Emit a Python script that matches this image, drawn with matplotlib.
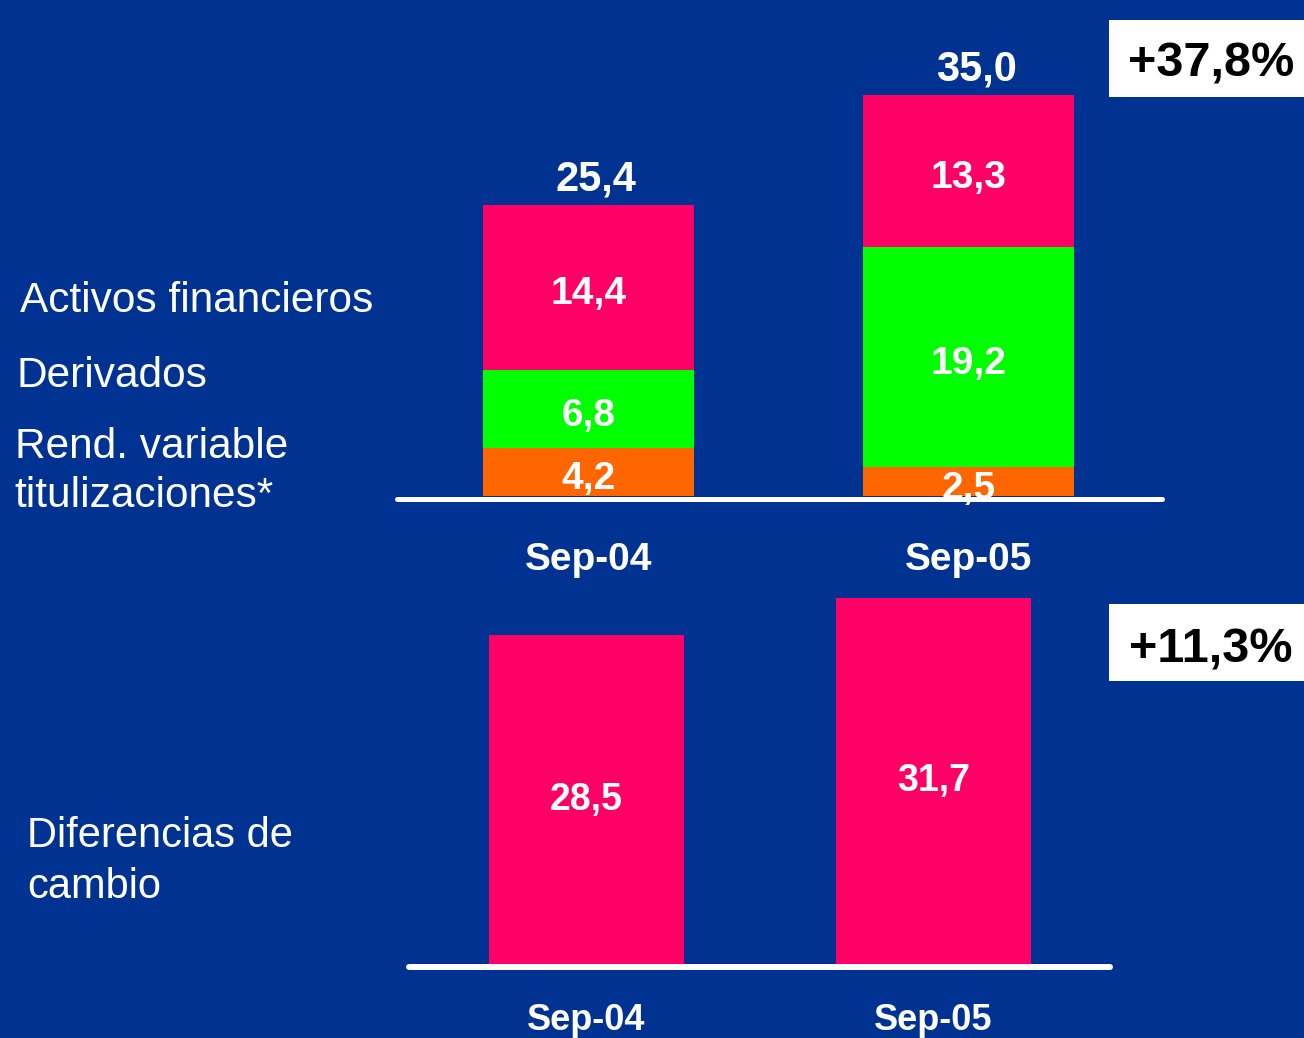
import matplotlib
matplotlib.use('Agg')
import matplotlib.pyplot as plt
from matplotlib.patches import Rectangle

# ---------------- data ----------------
categories = ['Sep-04', 'Sep-05']
rend_variable = [4.2, 2.5]      # Rend. variable titulizaciones*
derivados = [6.8, 19.2]
activos_fin = [14.4, 13.3]
dif_cambio = [28.5, 31.7]
growth_top = '+37,8%'
growth_bottom = '+11,3%'
legend_top = ['Activos financieros', 'Derivados', 'Rend. variable', 'titulizaciones*']
legend_bottom = ['Diferencias de', 'cambio']

# ---------------- style ----------------
W, H = 1304, 1038
BG = '#003391'
PINK = '#FF0066'
GREEN = '#00FF00'
ORANGE = '#FF6600'
FONT = 'Liberation Sans'
plt.rcParams['font.family'] = [FONT, 'DejaVu Sans']


def fmt(v):
    return f'{v:.1f}'.replace('.', ',')


def fx(x):
    return x / W


def fy(y):
    return 1 - y / H


fig = plt.figure(figsize=(W / 100, H / 100), dpi=100, facecolor=BG)


def clean(ax):
    ax.set_facecolor('none')
    for s in ax.spines.values():
        s.set_visible(False)
    ax.set_yticks([])


# ---------------- top chart ----------------
sc1 = 11.46
ax1 = fig.add_axes([fx(397), 542 / H, (1162 - 397) / W, 496 / H])
clean(ax1)
ax1.set_xlim(-0.504, 1.509)
ax1.set_ylim(0, 496 / sc1)
x = list(range(len(categories)))
bw1 = 0.555
ax1.bar(x, rend_variable, width=bw1, color=ORANGE, zorder=2)
ax1.bar(x, derivados, width=bw1, bottom=rend_variable, color=GREEN, zorder=2)
bottom3 = [a + b for a, b in zip(rend_variable, derivados)]
ax1.bar(x, activos_fin, width=bw1, bottom=bottom3, color=PINK, zorder=2)
ax1.axhline(-0.22, xmin=0, xmax=1, color='white', lw=3.6, clip_on=False,
            solid_capstyle='round', zorder=3)

for i in x:
    segs = [(0, rend_variable[i]), (rend_variable[i], derivados[i]),
            (bottom3[i], activos_fin[i])]
    for base, v in segs:
        ax1.text(i, base + v / 2 - 0.6, fmt(v), ha='center', va='center', color='white',
                 fontsize=28, fontweight='bold', zorder=4)
    tot = bottom3[i] + activos_fin[i]
    ax1.text(i + 0.02, tot + 1.22, fmt(tot), ha='center', va='baseline', color='white',
             fontsize=30, fontweight='bold', zorder=4)

ax1.set_xticks(x, categories)
ax1.tick_params(axis='x', length=0, pad=33, labelsize=28, labelcolor='white')
for t in ax1.get_xticklabels():
    t.set_fontweight('bold')

# ---------------- bottom chart ----------------
sc2 = 11.53
ax2 = fig.add_axes([fx(409), 74 / H, (1110 - 409) / W, 404 / H])
clean(ax2)
ax2.set_xlim(-0.5115, 1.5086)
ax2.set_ylim(0, 404 / sc2)
bw2 = 0.562
ax2.bar(x, dif_cambio, width=bw2, color=PINK, zorder=2)
ax2.axhline(-0.26, xmin=0, xmax=1, color='white', lw=4.3, clip_on=False,
            solid_capstyle='round', zorder=3)
for i in x:
    ax2.text(i, dif_cambio[i] / 2, fmt(dif_cambio[i]), ha='center', va='center',
             color='white', fontsize=27, fontweight='bold', zorder=4)
ax2.set_xticks(x, categories)
ax2.tick_params(axis='x', length=0, pad=28, labelsize=26, labelcolor='white')
for t in ax2.get_xticklabels():
    t.set_fontweight('bold')

# ---------------- side labels ----------------
legend_pos = [(20, 312), (16, 387), (15, 458), (14, 507)]
for (px, py), lab in zip(legend_pos, legend_top):
    fig.text(fx(px), fy(py), lab, color='white', fontsize=30.5, ha='left', va='baseline')
for (px, py), lab in zip([(27, 847), (27, 898)], legend_bottom):
    fig.text(fx(px), fy(py), lab, color='white', fontsize=30, ha='left', va='baseline')

# ---------------- growth boxes ----------------
for (y0, y1, base), txt in zip([(20, 97, 77), (604, 681, 663)], [growth_top, growth_bottom]):
    fig.patches.append(Rectangle((fx(1109), fy(y1)), fx(1304) - fx(1109), fy(y0) - fy(y1),
                                 transform=fig.transFigure, facecolor='white',
                                 edgecolor='none', zorder=1))
    fig.text(fx(1211), fy(base), txt, color='black', fontsize=35, fontweight='bold',
             ha='center', va='baseline', zorder=2)

fig.savefig('out.png', dpi=100, facecolor=BG)
